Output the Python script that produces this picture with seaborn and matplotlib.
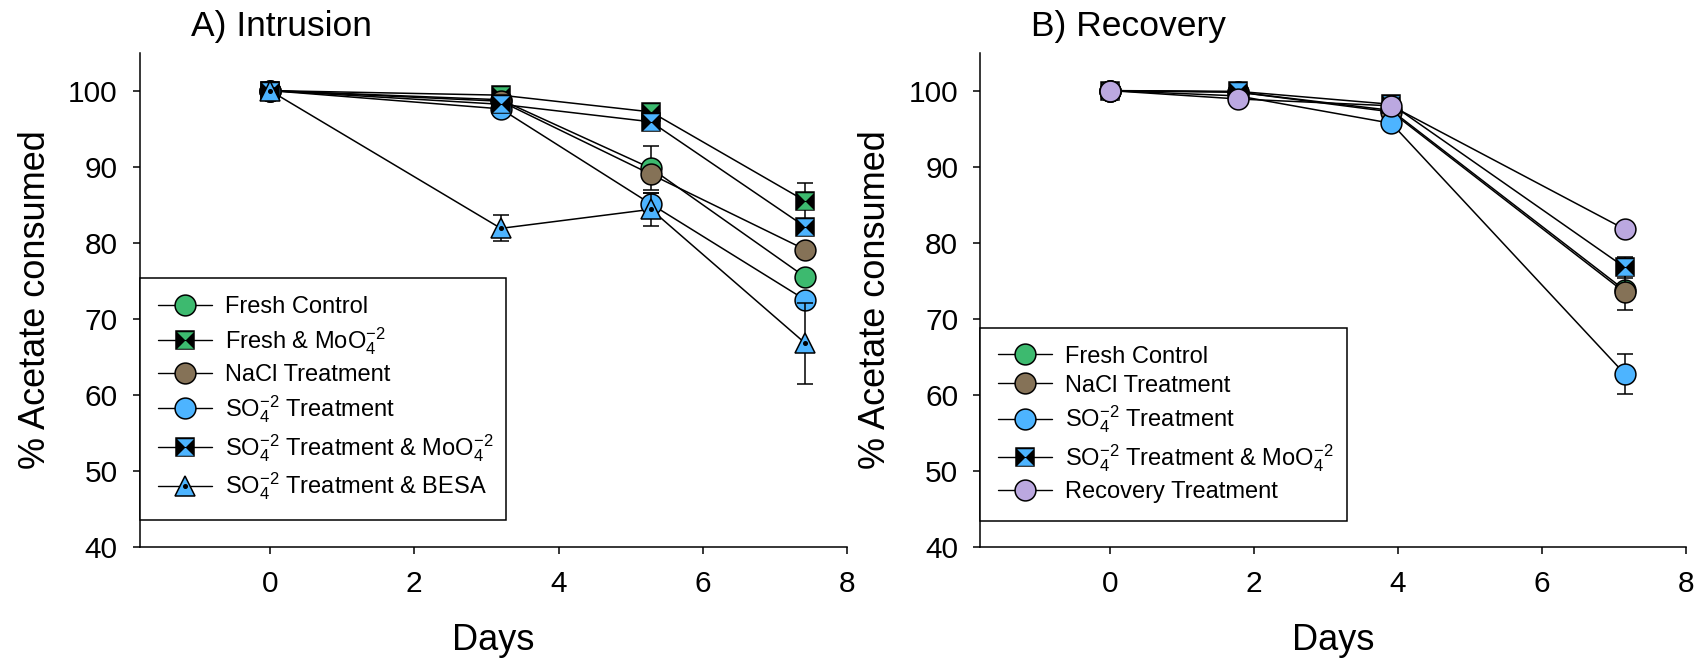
import pandas as pd
import matplotlib
matplotlib.use("Agg")
import matplotlib.pyplot as plt
from matplotlib.lines import Line2D
from matplotlib.path import Path
import seaborn as sns

# ---------------- data ----------------
# A) Intrusion
days_a = [0, 3.2, 5.28, 7.42]
fresh_control_a = [100, 98.8, 89.8, 75.5]
fresh_control_a_err = [0.3, 0.5, 2.9, 0.8]
fresh_moo4_a = [100, 99.4, 97.2, 85.5]
fresh_moo4_a_err = [0.3, 0.4, 0.6, 2.4]
nacl_a = [100, 98.6, 89.0, 79.1]
nacl_a_err = [0.3, 0.5, 0.8, 0.8]
so4_a = [100, 97.6, 85.1, 72.5]
so4_a_err = [0.3, 0.5, 1.5, 0.8]
so4_moo4_a = [100, 98.2, 95.9, 82.1]
so4_moo4_a_err = [0.3, 0.4, 0.6, 0.6]
so4_besa_a = [100, 81.9, 84.4, 66.8]
so4_besa_a_err = [0.3, 1.7, 2.2, 5.3]

# B) Recovery
days_b = [0, 1.78, 3.91, 7.15]
fresh_control_b = [100, 99.8, 97.4, 73.8]
fresh_control_b_err = [0.2, 0.3, 0.5, 0.8]
nacl_b = [100, 99.8, 97.2, 73.5]
nacl_b_err = [0.2, 0.3, 0.5, 2.3]
so4_b = [100, 99.3, 95.7, 62.8]
so4_b_err = [0.2, 0.3, 0.6, 2.6]
so4_moo4_b = [100, 99.9, 98.2, 76.8]
so4_moo4_b_err = [0.2, 0.3, 0.5, 1.4]
recovery_b = [100, 98.9, 98.0, 81.8]
recovery_b_err = [0.2, 0.3, 0.4, 0.5]

GREEN = "#3dba6f"
BROWN = "#857257"
BLUE = "#4db4ff"
PURPLE = "#bba8e0"

LBL_FRESH = "Fresh Control"
LBL_FRESH_MOO4 = "Fresh & MoO$_4^{-2}$"
LBL_NACL = "NaCl Treatment"
LBL_SO4 = "SO$_4^{-2}$ Treatment"
LBL_SO4_MOO4 = "SO$_4^{-2}$ Treatment & MoO$_4^{-2}$"
LBL_SO4_BESA = "SO$_4^{-2}$ Treatment & BESA"
LBL_RECOVERY = "Recovery Treatment"

# (label, values, errors, colour, marker kind)
series_a = [
    (LBL_FRESH, fresh_control_a, fresh_control_a_err, GREEN, "circle"),
    (LBL_FRESH_MOO4, fresh_moo4_a, fresh_moo4_a_err, GREEN, "bowtie"),
    (LBL_NACL, nacl_a, nacl_a_err, BROWN, "circle"),
    (LBL_SO4, so4_a, so4_a_err, BLUE, "circle"),
    (LBL_SO4_MOO4, so4_moo4_a, so4_moo4_a_err, BLUE, "bowtie"),
    (LBL_SO4_BESA, so4_besa_a, so4_besa_a_err, BLUE, "triangle"),
]
series_b = [
    (LBL_FRESH, fresh_control_b, fresh_control_b_err, GREEN, "circle"),
    (LBL_NACL, nacl_b, nacl_b_err, BROWN, "circle"),
    (LBL_SO4, so4_b, so4_b_err, BLUE, "circle"),
    (LBL_SO4_MOO4, so4_moo4_b, so4_moo4_b_err, BLUE, "bowtie"),
    (LBL_RECOVERY, recovery_b, recovery_b_err, PURPLE, "circle"),
]

# ---------------- style ----------------
sns.set_style("ticks")
plt.rcParams["font.family"] = ["Liberation Sans", "DejaVu Sans"]
plt.rcParams["mathtext.fontset"] = "custom"
plt.rcParams["mathtext.rm"] = "Liberation Sans"
plt.rcParams["mathtext.it"] = "Liberation Sans:italic"
plt.rcParams["mathtext.bf"] = "Liberation Sans:bold"
plt.rcParams["mathtext.default"] = "regular"
for key in ("text.color", "axes.labelcolor", "xtick.color", "ytick.color",
            "axes.edgecolor"):
    plt.rcParams[key] = "black"

# hourglass shape for the "bowtie" squares (coloured top and bottom wedges)
HOURGLASS = Path(
    [(-1, 1), (1, 1), (0, 0), (-1, 1), (-1, -1), (1, -1), (0, 0), (-1, -1)],
    [Path.MOVETO, Path.LINETO, Path.LINETO, Path.CLOSEPOLY,
     Path.MOVETO, Path.LINETO, Path.LINETO, Path.CLOSEPOLY],
)
MS_CIRCLE = 15
MS_SQUARE = 13.5
MS_TRI = 14.5


def marker_artists(kind, color, with_line=False):
    """Line2D handles that make up one marker style (for the legend)."""
    ls = "-" if with_line else "none"
    if kind == "circle":
        return Line2D([], [], color="black", lw=1, ls=ls, marker="o", ms=MS_CIRCLE,
                      mfc=color, mec="black", mew=1.1)
    if kind == "bowtie":
        base = Line2D([], [], color="black", lw=1, ls=ls, marker="s", ms=MS_SQUARE,
                      mfc="black", mec="black", mew=1.1)
        top = Line2D([], [], ls="none", marker=HOURGLASS, ms=MS_SQUARE * 0.88,
                     mfc=color, mew=0)
        return (base, top)
    base = Line2D([], [], color="black", lw=1, ls=ls, marker="^", ms=MS_TRI,
                  mfc=color, mec="black", mew=1.1)
    dot = Line2D([], [], ls="none", marker="o", ms=2.6, mfc="black", mec="black")
    return (base, dot)


def draw_markers(ax, x, y, kind, color, z):
    if kind == "circle":
        ax.plot(x, y, ls="none", marker="o", ms=MS_CIRCLE, mfc=color,
                mec="black", mew=1.1, zorder=z)
    elif kind == "bowtie":
        ax.plot(x, y, ls="none", marker="s", ms=MS_SQUARE, mfc="black",
                mec="black", mew=1.1, zorder=z)
        ax.plot(x, y, ls="none", marker=HOURGLASS, ms=MS_SQUARE * 0.88,
                mfc=color, mew=0, zorder=z + 0.01)
    else:
        ax.plot(x, y, ls="none", marker="^", ms=MS_TRI, mfc=color,
                mec="black", mew=1.1, zorder=z)
        ax.plot(x, y, ls="none", marker="o", ms=2.6, mfc="black",
                mec="black", zorder=z + 0.01)


def draw_panel(ax, days, series, title, legend_box):
    frames = []
    for label, vals, errs, color, kind in series:
        frames.append(pd.DataFrame({"Days": days, "value": vals, "err": errs,
                                    "treatment": label}))
    df = pd.concat(frames, ignore_index=True)

    # black connecting lines
    sns.lineplot(data=df, x="Days", y="value", units="treatment", estimator=None,
                 color="black", lw=1.1, ax=ax, legend=False, zorder=2)

    handles, labels = [], []
    for i, (label, vals, errs, color, kind) in enumerate(series):
        sub = df[df["treatment"] == label]
        ax.errorbar(sub["Days"], sub["value"], yerr=sub["err"], fmt="none",
                    ecolor="black", elinewidth=1.1, capsize=5.5, capthick=1.1,
                    zorder=3 + i)
        draw_markers(ax, sub["Days"], sub["value"], kind, color, 3.5 + i)
        handles.append(marker_artists(kind, color, with_line=True))
        labels.append(label)

    ax.set_xlim(-1.8, 8)
    ax.set_ylim(40, 105)
    ax.set_xticks([0, 2, 4, 6, 8])
    ax.set_yticks([40, 50, 60, 70, 80, 90, 100])
    ax.tick_params(labelsize=21.5, length=5, width=1.1, pad=11)
    for sp in ("left", "bottom"):
        ax.spines[sp].set_linewidth(1.1)
    sns.despine(ax=ax)
    ax.set_xlabel("Days", fontsize=26, labelpad=18)
    ax.set_ylabel("% Acetate consumed", fontsize=26, labelpad=11)
    ax.text(0.072, 1.034, title, transform=ax.transAxes, fontsize=25.5,
            ha="left", va="baseline")

    leg = ax.legend(handles, labels, loc="lower left",
                    bbox_to_anchor=legend_box, mode="expand",
                    borderaxespad=0, fontsize=17, handlelength=2.3,
                    handletextpad=0.55, labelspacing=0.3, borderpad=0.75,
                    frameon=True, fancybox=False, framealpha=1)
    leg.get_frame().set_edgecolor("black")
    leg.get_frame().set_linewidth(1.1)
    leg.set_zorder(20)


fig = plt.figure(figsize=(17.08, 6.65), dpi=100)
ax_a = fig.add_axes([0.082, 0.177, 0.414, 0.744])
ax_b = fig.add_axes([0.574, 0.177, 0.413, 0.744])

draw_panel(ax_a, days_a, series_a, "A) Intrusion", (0, 0.055, 0.518, 0.49))
draw_panel(ax_b, days_b, series_b, "B) Recovery", (0, 0.053, 0.52, 0.39))

fig.savefig("out.png", dpi=100)
